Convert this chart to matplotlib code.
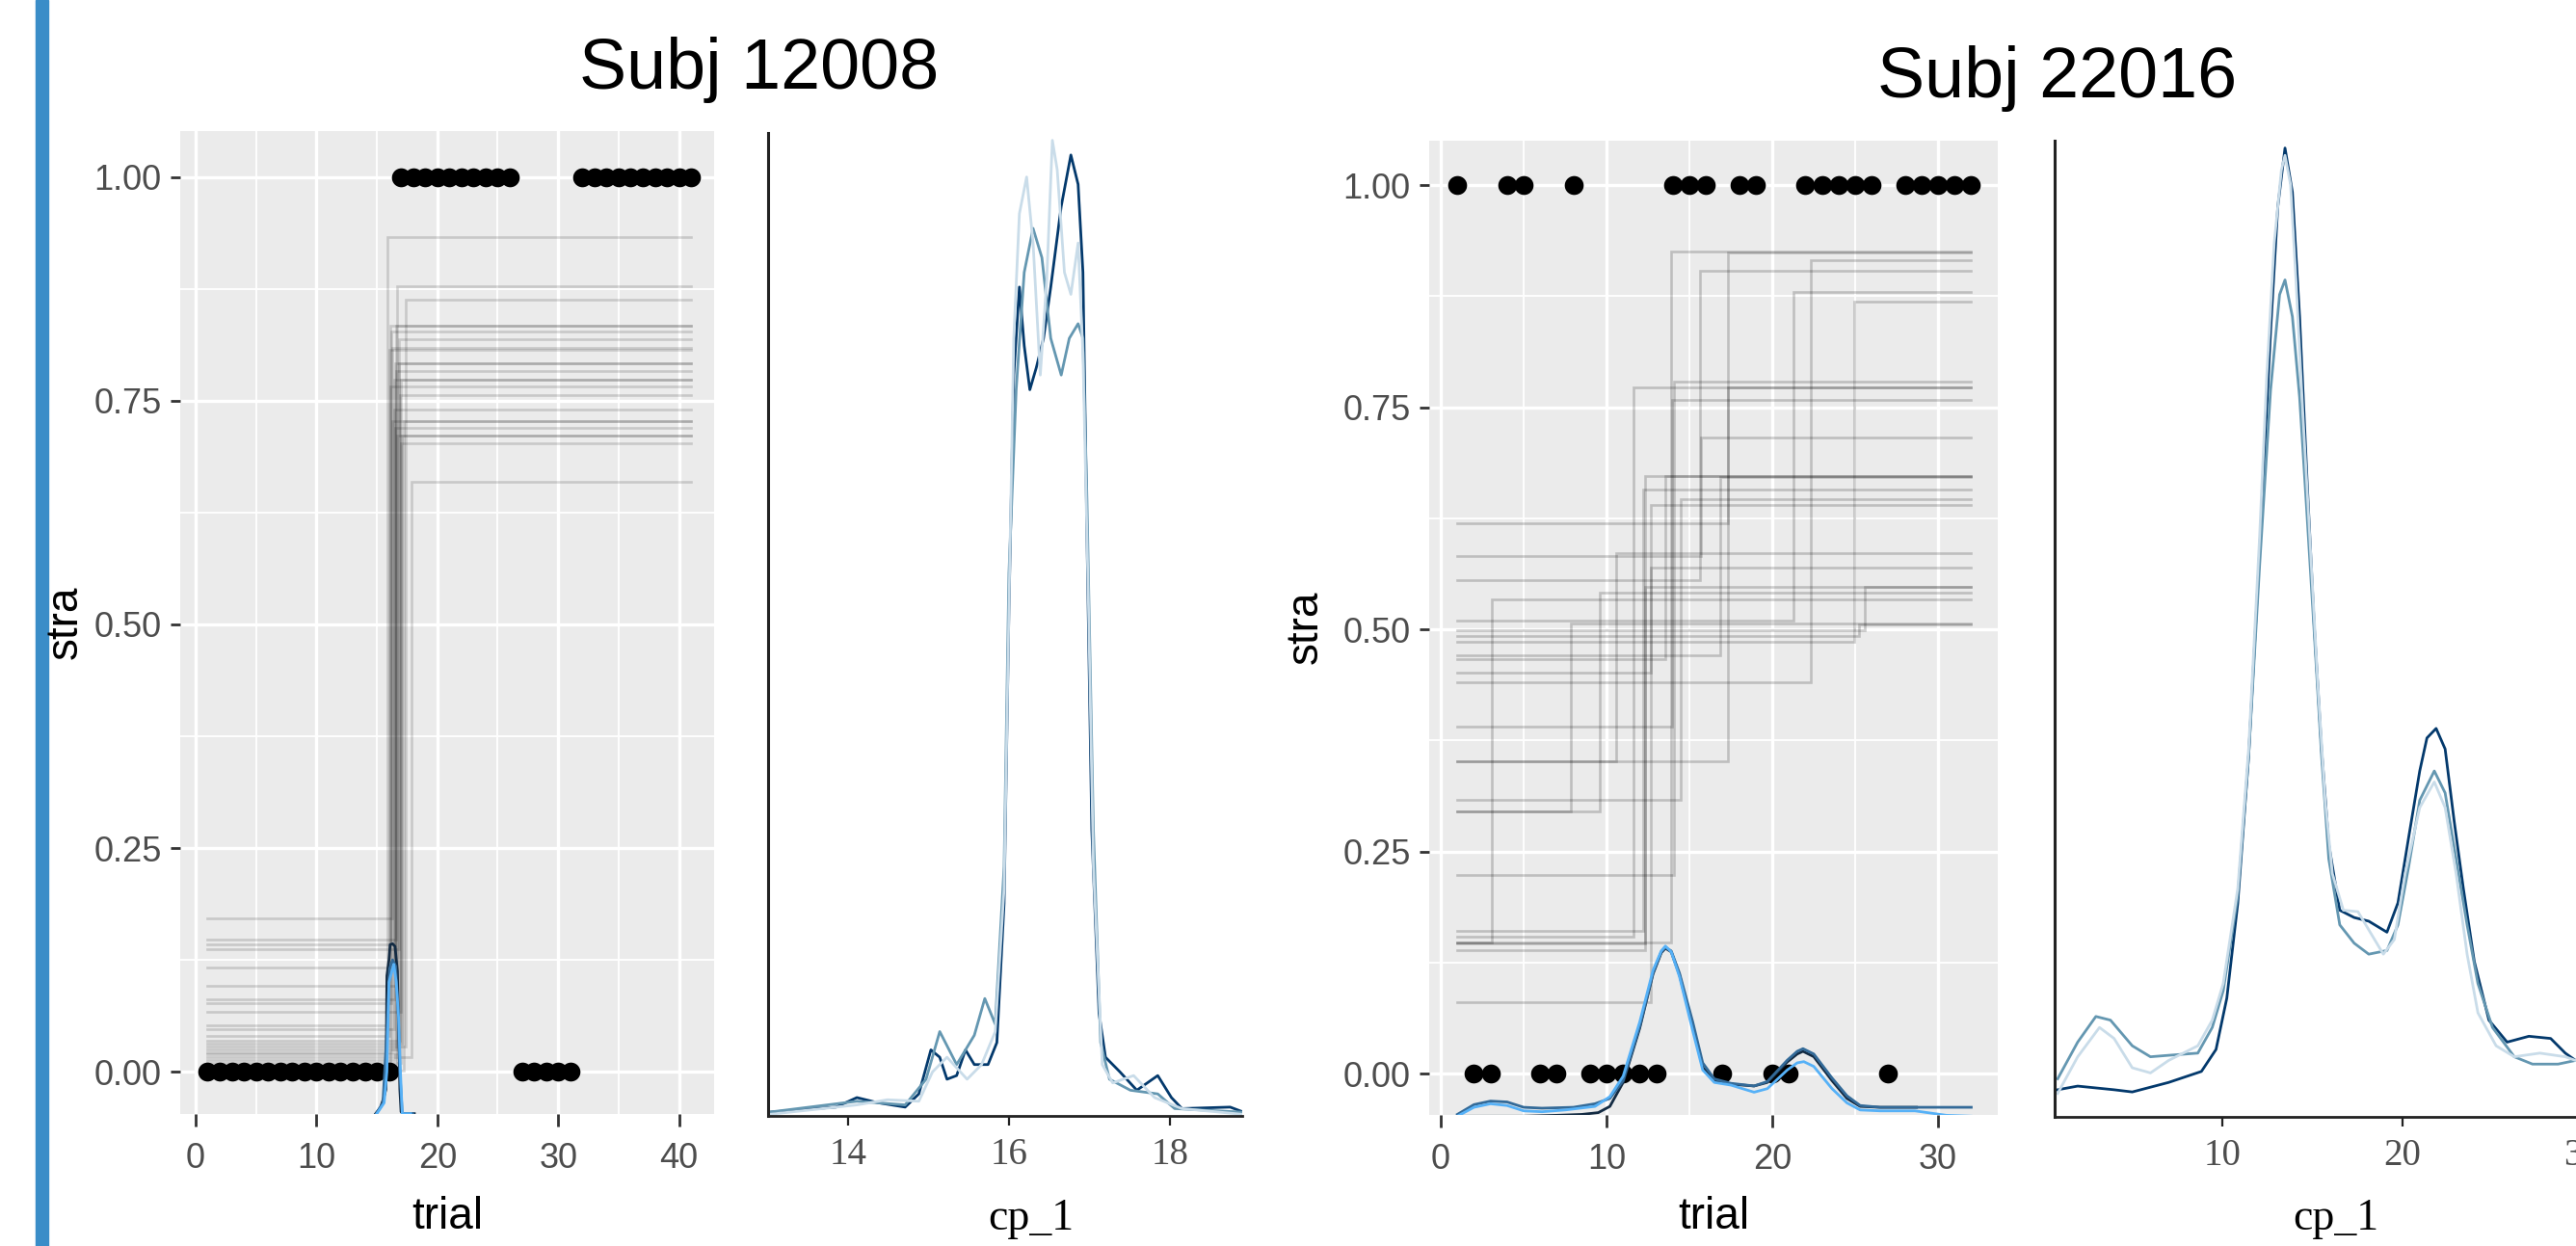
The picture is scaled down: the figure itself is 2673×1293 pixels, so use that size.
import matplotlib
matplotlib.use("Agg")
import matplotlib.pyplot as plt
from matplotlib.patches import Rectangle
from matplotlib import font_manager as fm

# ---------------- data ----------------
titles = ["Subj 12008", "Subj 22016"]

# Subject 12008 : observed choices per trial
s1_trials = list(range(1, 42))
s1_choice = [0, 0, 0, 0, 0, 0, 0, 0, 0, 0, 0, 0, 0, 0, 0, 0,
             1, 1, 1, 1, 1, 1, 1, 1, 1, 1,
             0, 0, 0, 0, 0,
             1, 1, 1, 1, 1, 1, 1, 1, 1, 1]
# posterior draws: strategy prob before / after change point
s1_p_before = [0.171, 0.148, 0.142, 0.137, 0.116, 0.096, 0.081, 0.076, 0.067, 0.052, 0.047, 0.040,
               0.034, 0.031, 0.028, 0.025, 0.022, 0.019, 0.016, 0.013, 0.010, 0.007, 0.004, 0.001]
s1_cp = [16.3, 16.6, 16.1, 16.8, 16.4, 16.7, 16.5, 16.2, 17.0, 15.86, 16.4, 16.0,
         16.9, 17.1, 17.4, 16.6, 16.3, 16.8, 17.9, 16.5, 17.0, 16.7, 16.1, 17.2]
s1_p_after = [0.809, 0.834, 0.766, 0.792, 0.740, 0.878, 0.720, 0.828, 0.703, 0.933, 0.774, 0.807,
              0.756, 0.711, 0.863, 0.783, 0.727, 0.819, 0.660, 0.792, 0.774, 0.711, 0.834, 0.727]
# change-point density drawn on the trial axis (3 chains)
s1_ov_x = [
    [14.9, 15.3, 15.55, 15.75, 15.83, 16.0, 16.1, 16.3, 16.5, 16.7, 16.8, 16.9, 17.0, 17.15, 18.1],
    [14.95, 15.5, 15.85, 16.05, 16.3, 16.55, 16.75, 16.9, 17.1, 18.0],
    [15.0, 15.6, 15.83, 16.0, 16.2, 16.4, 16.6, 16.8, 16.95, 17.1, 17.8],
]
s1_ov_y = [
    [-0.047, -0.040, -0.030, -0.020, 0.107, 0.125, 0.142, 0.143, 0.140, 0.112, 0.050, -0.020, -0.045, -0.047, -0.047],
    [-0.047, -0.035, 0.050, 0.115, 0.125, 0.118, 0.070, 0.000, -0.047, -0.047],
    [-0.047, -0.035, 0.000, 0.100, 0.110, 0.120, 0.100, 0.060, 0.000, -0.047, -0.047],
]
# cp_1 posterior density, 3 chains (relative heights)
s1_dens_x = [
    [13.01, 13.85, 14.11, 14.37, 14.71, 14.88, 15.03, 15.14, 15.23, 15.35, 15.46, 15.57, 15.74, 15.85,
     15.94, 16.0, 16.06, 16.13, 16.19, 16.26, 16.34, 16.43, 16.52, 16.65, 16.77, 16.86, 16.92, 16.97,
     17.03, 17.12, 17.2, 17.38, 17.59, 17.85, 18.02, 18.15, 18.75, 18.92],
    [13.01, 14.11, 14.71, 14.97, 15.14, 15.35, 15.57, 15.7, 15.83, 15.94, 16.0, 16.09, 16.19, 16.3,
     16.41, 16.52, 16.65, 16.75, 16.86, 16.92, 16.97, 17.05, 17.14, 17.25, 17.51, 17.85, 18.06, 18.92],
    [13.01, 14.11, 14.49, 14.88, 15.05, 15.23, 15.48, 15.66, 15.83, 15.94, 16.0, 16.06, 16.13, 16.22,
     16.3, 16.39, 16.47, 16.54, 16.6, 16.69, 16.77, 16.86, 16.92, 16.99, 17.05, 17.16, 17.29, 17.55,
     17.81, 18.15, 18.92],
]
s1_dens_y = [
    [0.005, 0.012, 0.025, 0.018, 0.012, 0.030, 0.090, 0.080, 0.050, 0.055, 0.090, 0.070, 0.070, 0.100,
     0.290, 0.690, 1.010, 1.130, 1.050, 0.990, 1.020, 1.060, 1.130, 1.240, 1.310, 1.270, 1.150, 0.790,
     0.390, 0.140, 0.080, 0.060, 0.035, 0.055, 0.025, 0.010, 0.012, 0.005],
    [0.005, 0.020, 0.015, 0.050, 0.115, 0.070, 0.110, 0.160, 0.125, 0.340, 0.740, 0.990, 1.150, 1.210,
     1.170, 1.060, 1.010, 1.060, 1.080, 1.060, 0.840, 0.390, 0.100, 0.050, 0.035, 0.030, 0.010, 0.005],
    [0.002, 0.015, 0.022, 0.020, 0.060, 0.080, 0.050, 0.070, 0.115, 0.310, 0.690, 1.060, 1.230, 1.280,
     1.190, 1.010, 1.140, 1.330, 1.290, 1.150, 1.120, 1.190, 1.040, 0.690, 0.340, 0.070, 0.045, 0.055,
     0.025, 0.010, 0.002],
]

# Subject 22016
s2_trials = list(range(1, 33))
s2_choice = [1, 0, 0, 1, 1, 0, 0, 1, 0, 0, 0, 0, 0, 1, 1, 1,
             0, 1, 1, 0, 0, 1, 1, 1, 1, 1, 0, 1, 1, 1, 1, 1]
s2_p_before = [0.619, 0.148, 0.223, 0.391, 0.154, 0.351, 0.555, 0.352, 0.583, 0.440, 0.510, 0.486, 0.139,
               0.471, 0.161, 0.308, 0.080, 0.451, 0.499, 0.295, 0.148, 0.492, 0.295, 0.466, 0.146]
s2_cp = [17.35, 13.90, 14.06, 13.95, 11.60, 17.35, 15.65, 10.55, 15.70, 22.30, 21.30, 24.96, 12.35,
         16.84, 12.20, 14.50, 12.68, 12.68, 25.60, 9.60, 3.10, 25.25, 7.83, 13.55, 12.35]
s2_p_after = [0.924, 0.925, 0.779, 0.758, 0.772, 0.772, 0.904, 0.586, 0.716, 0.915, 0.880, 0.869, 0.673,
              0.671, 0.657, 0.646, 0.640, 0.569, 0.548, 0.541, 0.534, 0.505, 0.507, 0.673, 0.548]
s2_ov_x = [
    [1.0, 3.0, 5.0, 7.0, 8.5, 9.5, 10.2, 11.0, 12.0, 12.8, 13.3, 13.55, 13.9, 14.4, 15.2, 15.8, 16.5,
     17.5, 18.9, 19.7, 20.9, 21.5, 21.85, 22.5, 23.6, 24.5, 25.3, 26.5, 28.7],
    [1.0, 2.0, 3.0, 4.0, 5.0, 6.1, 8.0, 9.3, 10.2, 11.0, 12.0, 12.8, 13.3, 13.55, 13.9, 14.4, 15.2, 15.8,
     16.5, 17.5, 18.9, 19.7, 20.9, 21.5, 21.85, 22.5, 23.6, 24.5, 25.3, 26.5, 28.6, 30.5, 32.0],
    [1.0, 2.0, 3.0, 4.0, 5.0, 6.1, 7.5, 9.3, 10.2, 11.0, 12.0, 12.8, 13.3, 13.55, 13.9, 14.4, 15.2, 15.8,
     16.5, 17.5, 18.9, 19.7, 20.9, 21.5, 21.9, 22.5, 23.6, 24.5, 25.3, 26.5, 28.6, 30.5, 32.0],
]
s2_ov_y = [
    [-0.048, -0.048, -0.048, -0.047, -0.046, -0.044, -0.037, -0.010, 0.051, 0.112, 0.136, 0.141, 0.137,
     0.111, 0.053, 0.007, -0.008, -0.012, -0.014, -0.010, 0.013, 0.022, 0.025, 0.019, -0.008, -0.028,
     -0.037, -0.038, -0.038],
    [-0.046, -0.035, -0.031, -0.032, -0.038, -0.039, -0.038, -0.034, -0.028, -0.008, 0.053, 0.113, 0.137,
     0.142, 0.138, 0.113, 0.058, 0.012, -0.006, -0.011, -0.014, -0.009, 0.015, 0.025, 0.028, 0.022,
     -0.005, -0.025, -0.036, -0.038, -0.038, -0.038, -0.038],
    [-0.048, -0.038, -0.034, -0.036, -0.042, -0.043, -0.041, -0.037, -0.026, -0.003, 0.058, 0.116, 0.138,
     0.1435, 0.137, 0.109, 0.048, 0.004, -0.010, -0.013, -0.021, -0.017, 0.004, 0.012, 0.0134, 0.008,
     -0.017, -0.033, -0.041, -0.042, -0.042, -0.047, -0.048],
]
s2_dens_x = [
    [0.87, 1.98, 4.0, 5.01, 7.03, 8.85, 9.66, 10.26, 10.87, 11.47, 12.08, 12.69, 13.09, 13.49, 13.9, 14.3,
     14.71, 15.11, 15.52, 15.92, 16.53, 17.33, 18.14, 19.15, 19.76, 20.36, 20.97, 21.37, 21.88, 22.38,
     22.89, 23.39, 24.0, 24.81, 25.82, 27.03, 28.24, 29.05, 29.62, 31.9],
    [0.87, 1.98, 2.99, 3.8, 5.01, 6.02, 7.03, 8.65, 9.45, 10.06, 10.87, 11.47, 12.08, 12.69, 13.19, 13.49,
     13.9, 14.3, 14.71, 15.11, 15.52, 15.92, 16.53, 17.33, 18.14, 19.15, 19.76, 20.36, 20.97, 21.78,
     22.38, 22.99, 23.6, 24.2, 25.01, 26.22, 27.23, 28.65, 29.62, 31.9],
    [0.87, 1.98, 3.19, 4.0, 5.01, 6.02, 7.03, 8.65, 9.45, 10.06, 10.87, 11.47, 12.08, 12.48, 12.89, 13.29,
     13.49, 13.8, 14.1, 14.5, 14.91, 15.31, 15.72, 16.12, 16.73, 17.54, 18.34, 18.95, 19.56, 20.16,
     20.97, 21.78, 22.38, 22.99, 23.6, 24.2, 25.21, 26.22, 27.64, 29.05, 29.62, 31.9],
]
s2_dens_y = [
    [0.0037, 0.0042, 0.0037, 0.0034, 0.0047, 0.0062, 0.0092, 0.0162, 0.0292, 0.0492, 0.0772, 0.1072,
     0.1242, 0.1322, 0.1262, 0.1092, 0.0872, 0.0672, 0.0502, 0.0372, 0.0282, 0.0272, 0.0267, 0.0252,
     0.0292, 0.0382, 0.0472, 0.0517, 0.0530, 0.0502, 0.0402, 0.0312, 0.0212, 0.0132, 0.0102, 0.0110,
     0.0107, 0.0087, 0.0077, 0.0065],
    [0.0052, 0.0102, 0.0137, 0.0132, 0.0097, 0.0082, 0.0084, 0.0087, 0.0122, 0.0172, 0.0302, 0.0492,
     0.0752, 0.0992, 0.1122, 0.1142, 0.1092, 0.0982, 0.0822, 0.0662, 0.0492, 0.0352, 0.0262, 0.0237,
     0.0222, 0.0227, 0.0262, 0.0342, 0.0432, 0.0472, 0.0442, 0.0352, 0.0262, 0.0182, 0.0122, 0.0082,
     0.0072, 0.0072, 0.0077, 0.0075],
    [0.0032, 0.0082, 0.0122, 0.0107, 0.0067, 0.0060, 0.0077, 0.0097, 0.0132, 0.0182, 0.0312, 0.0502,
     0.0792, 0.1012, 0.1192, 0.1292, 0.1312, 0.1272, 0.1142, 0.0952, 0.0772, 0.0592, 0.0432, 0.0332,
     0.0282, 0.0280, 0.0247, 0.0222, 0.0242, 0.0332, 0.0422, 0.0457, 0.0422, 0.0332, 0.0222, 0.0142,
     0.0097, 0.0082, 0.0087, 0.0082, 0.0077, 0.0070],
]

trial_ticks_1 = [0, 10, 20, 30, 40]
trial_ticks_2 = [0, 10, 20, 30]
stra_ticks = [0.0, 0.25, 0.5, 0.75, 1.0]
stra_labels = ["0.00", "0.25", "0.50", "0.75", "1.00"]
cp_ticks_1 = [14, 16, 18]
cp_ticks_2 = [10, 20, 30]

ov_colors = ["#132B43", "#336A98", "#56B1F7"]
dens_colors = ["#03396C", "#6497B1", "#C9DCE9"]

# ---------------- figure ----------------
W, H = 2673, 1293
fig = plt.figure(figsize=(W / 100, H / 100), dpi=100)
fig.patch.set_facecolor("white")

names = {f.name for f in fm.fontManager.ttflist}
SANS = "Liberation Sans"
NARROW = "Liberation Sans Narrow" if "Liberation Sans Narrow" in names else SANS
SERIF = "Liberation Serif"


def rect(x0, y0, x1, y1):
    return [x0 / W, 1 - y1 / H, (x1 - x0) / W, (y1 - y0) / H]


def fx(x):
    return x / W


def fy(y):
    return 1 - y / H


# left blue bar
fig.patches.append(Rectangle((fx(37), 0), (50 - 37) / W, 1, transform=fig.transFigure,
                             color="#3A8DC8", zorder=0))


def trial_panel(box, xlim, ylim, xt, trials, choice, pb, cp, pa, ovx, ovy, alpha):
    ax = fig.add_axes(rect(*box))
    ax.set_facecolor("#EBEBEB")
    ax.set_xlim(*xlim)
    ax.set_ylim(*ylim)
    ax.set_xticks(xt)
    ax.set_xticks([t + 5 for t in xt if t + 5 < xlim[1]], minor=True)
    ax.set_yticks(stra_ticks)
    ax.set_yticklabels(stra_labels)
    ax.set_yticks([0.125, 0.375, 0.625, 0.875], minor=True)
    ax.grid(which="major", color="white", lw=2.4)
    ax.grid(which="minor", color="white", lw=1.3)
    ax.set_axisbelow(True)
    for s in ax.spines.values():
        s.set_visible(False)
    ax.tick_params(which="minor", length=0)
    ax.tick_params(axis="x", which="major", length=9, width=2.0, color="#333333",
                   labelsize=26, labelcolor="#4D4D4D", pad=12)
    ax.tick_params(axis="y", which="major", length=7, width=2.0, color="#333333",
                   labelsize=26, labelcolor="#4D4D4D", pad=7)
    for lab in ax.get_xticklabels() + ax.get_yticklabels():
        lab.set_family([NARROW, SANS])
    t0, t1 = trials[0], trials[-1]
    for a, c, b in zip(pb, cp, pa):
        ax.plot([t0, c, c, t1], [a, a, b, b], color="black", alpha=alpha, lw=1.9,
                solid_joinstyle="miter", zorder=2)
    ax.scatter(trials, choice, s=200, color="black", linewidths=0, zorder=3)
    for xs, ys, col in zip(ovx, ovy, ov_colors):
        ax.plot(xs, ys, color=col, lw=2.0, zorder=4)
    return ax


def dens_panel(box, xlim, ylim, xt, dx, dy):
    ax = fig.add_axes(rect(*box))
    ax.set_facecolor("white")
    ax.set_xlim(*xlim)
    ax.set_ylim(*ylim)
    ax.set_xticks(xt)
    ax.set_yticks([])
    ax.spines["top"].set_visible(False)
    ax.spines["right"].set_visible(False)
    ax.spines["left"].set_color("#222222")
    ax.spines["bottom"].set_color("#222222")
    ax.spines["left"].set_linewidth(2.2)
    ax.spines["bottom"].set_linewidth(2.0)
    ax.tick_params(axis="x", length=7, width=1.6, color="#222222", labelsize=28,
                   labelcolor="#4D4D4D", pad=9)
    for lab in ax.get_xticklabels():
        lab.set_family(SERIF)
    for xs, ys, col in zip(dx, dy, dens_colors):
        ax.plot(xs, ys, color=col, lw=2.0, clip_on=True)
    return ax


trial_panel((187, 136, 741, 1156), (-1.27, 42.9), (-0.0474, 1.0517), trial_ticks_1,
            s1_trials, s1_choice, s1_p_before, s1_cp, s1_p_after, s1_ov_x, s1_ov_y, 0.15)
dens_panel((797, 138, 1289, 1158), (13.006, 18.9), (0, 1.34), cp_ticks_1, s1_dens_x, s1_dens_y)
trial_panel((1483, 146, 2073, 1157), (-0.7, 33.6), (-0.0466, 1.050), trial_ticks_2,
            s2_trials, s2_choice, s2_p_before, s2_cp, s2_p_after, s2_ov_x, s2_ov_y, 0.19)
dens_panel((2132, 146, 2717, 1159), (0.7, 32.0), (0, 0.1332), cp_ticks_2, s2_dens_x, s2_dens_y)

# titles and axis titles
fig.text(fx(788), fy(92), titles[0], ha="center", va="baseline", fontsize=53, family=SANS)
fig.text(fx(2135), fy(101), titles[1], ha="center", va="baseline", fontsize=53, family=SANS)
for xc in (464, 1778):
    fig.text(fx(xc), fy(1275), "trial", ha="center", va="baseline", fontsize=33,
             family=[NARROW, SANS])
for xc, yc in ((68, 646), (1355, 651)):
    fig.text(fx(xc), fy(yc), "stra", ha="center", va="center", rotation=90, fontsize=33,
             family=[NARROW, SANS])
for xc in (1070, 2424):
    fig.text(fx(xc), fy(1276), "cp_1", ha="center", va="baseline", fontsize=33, family=SERIF)

fig.savefig("out.png", dpi=100)
